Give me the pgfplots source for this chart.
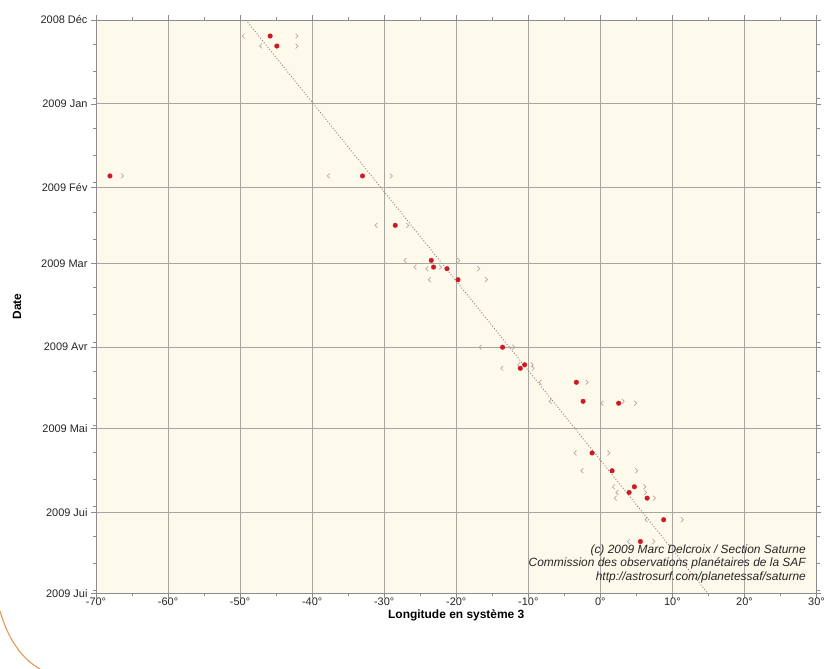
\documentclass[border=0pt]{standalone}
\usepackage{pgfplots}
\pgfplotsset{compat=1.18}
\usepackage{pgfplotstable}
\usepackage{fontspec}
\setmainfont{Liberation Sans}
\definecolor{bgcream}{RGB}{253,249,235}
\definecolor{gridgray}{RGB}{168,166,160}
\definecolor{axgray}{RGB}{140,140,140}
\definecolor{dotred}{RGB}{205,25,35}
\definecolor{chev}{RGB}{185,165,160}
\definecolor{trend}{RGB}{150,115,115}
\definecolor{arcorange}{RGB}{225,160,95}

\pgfdeclareplotmark{chevl}{%
  \pgfpathmoveto{\pgfqpoint{1.2pt}{2.4pt}}%
  \pgfpathlineto{\pgfqpoint{-1.2pt}{0pt}}%
  \pgfpathlineto{\pgfqpoint{1.2pt}{-2.4pt}}%
  \pgfusepathqstroke}
\pgfdeclareplotmark{chevr}{%
  \pgfpathmoveto{\pgfqpoint{-1.2pt}{2.4pt}}%
  \pgfpathlineto{\pgfqpoint{1.2pt}{0pt}}%
  \pgfpathlineto{\pgfqpoint{-1.2pt}{-2.4pt}}%
  \pgfusepathqstroke}

% x = longitude (deg), y = days since 2008-12-01, xl/xr = chevron positions
\pgfplotstableread{
x y xl xr
-45.83 5.93 -49.54 -42.13
-44.90 9.63 -47.13 -42.13
-68.06 57.67 nan -66.35
-33.01 57.67 -37.74 -29.03
-28.47 75.93 -31.11 -26.76
-23.47 88.89 -27.08 -19.68
-23.15 91.37 -25.69 -22.22
-21.29 91.96 -24.07 -16.90
-19.76 96.04 -23.71 -15.83
-13.57 121.0 -16.67 -12.04
-11.11 128.8 -13.65 -9.35
-10.51 127.5 -11.30 -9.50
-3.33 133.96 -8.33 -1.85
-2.40 141.0 -6.94 3.15
2.54 141.7 0.24 4.86
-1.15 160.1 -3.47 1.15
1.63 166.67 -2.54 5.00
4.72 172.6 1.85 6.15
3.99 174.7 2.32 6.25
6.49 176.8 2.08 7.50
8.79 184.8 6.39 11.35
5.56 192.85 3.93 7.40
}\obs

\begin{document}
\begin{tikzpicture}
\useasboundingbox (0,0) rectangle (824bp,669bp);
\fill[white] (0,0) rectangle (824bp,669bp);
\begin{axis}[
  at={(96bp,75.7bp)}, anchor=south west,
  scale only axis, width=720.5bp, height=573.3bp,
  xmin=-70, xmax=30, ymin=0, ymax=212, y dir=reverse,
  axis background/.style={fill=bgcream},
  grid=major, major grid style={gridgray, line width=0.7pt},
  axis line style={axgray, line width=1pt},
  tick style={axgray, line width=0.6pt},
  tick align=outside,
  major tick length=5pt, minor tick length=3pt,
  xtick={-70,-60,...,30},
  xticklabels={-70°,-60°,-50°,-40°,-30°,-20°,-10°,0°,10°,20°,30°},
  minor xtick={-65,-55,...,25},
  ytick={0,31,62,90,121,151,182,212},
  yticklabels={2008 Déc,2009 Jan,2009 Fév,2009 Mar,2009 Avr,2009 Mai,2009 Jui,2009 Jui},
  minor ytick={9,19,29,40,50,60,71,81,99,109,119,130,140,150,160,170,180,191,201,211},
  tick label style={font=\fontsize{11}{12}\selectfont, black!85},
  xticklabel style={yshift=3.5bp},
  xlabel={Longitude en système 3}, ylabel={Date},
  label style={font=\bfseries\fontsize{12}{14}\selectfont},
  xlabel style={at={(axis description cs:0.5,-0.0385)}, anchor=center},
  ylabel style={at={(axis description cs:-0.1096,0.5)}, anchor=center},
  clip=true,
]
\addplot[only marks, mark=chevl, chev, line width=0.7pt] table[x=xl,y=y]{\obs};
\addplot[only marks, mark=chevr, chev, line width=0.7pt] table[x=xr,y=y]{\obs};
\addplot[trend, dotted, line width=0.9pt] coordinates {(-49.2,0) (14.9,212)};
\addplot[only marks, mark=*, mark size=2.3pt, mark options={draw=dotred, fill=dotred}] table[x=x,y=y]{\obs};
\end{axis}
\begin{scope}[font=\itshape\fontsize{12}{14}\selectfont, black!85]
\node[anchor=east, inner sep=0pt] at (806bp,119bp) {(c) 2009 Marc Delcroix / Section Saturne};
\node[anchor=east, inner sep=0pt] at (806bp,105.5bp) {Commission des observations planétaires de la SAF};
\node[anchor=east, inner sep=0pt] at (806bp,92bp) {http://astrosurf.com/planetessaf/saturne};
\end{scope}
\draw[arcorange, line width=1.2pt] (0bp,58bp) .. controls (8bp,30bp) and (22bp,10bp) .. (40bp,0bp);
\end{tikzpicture}
\end{document}
